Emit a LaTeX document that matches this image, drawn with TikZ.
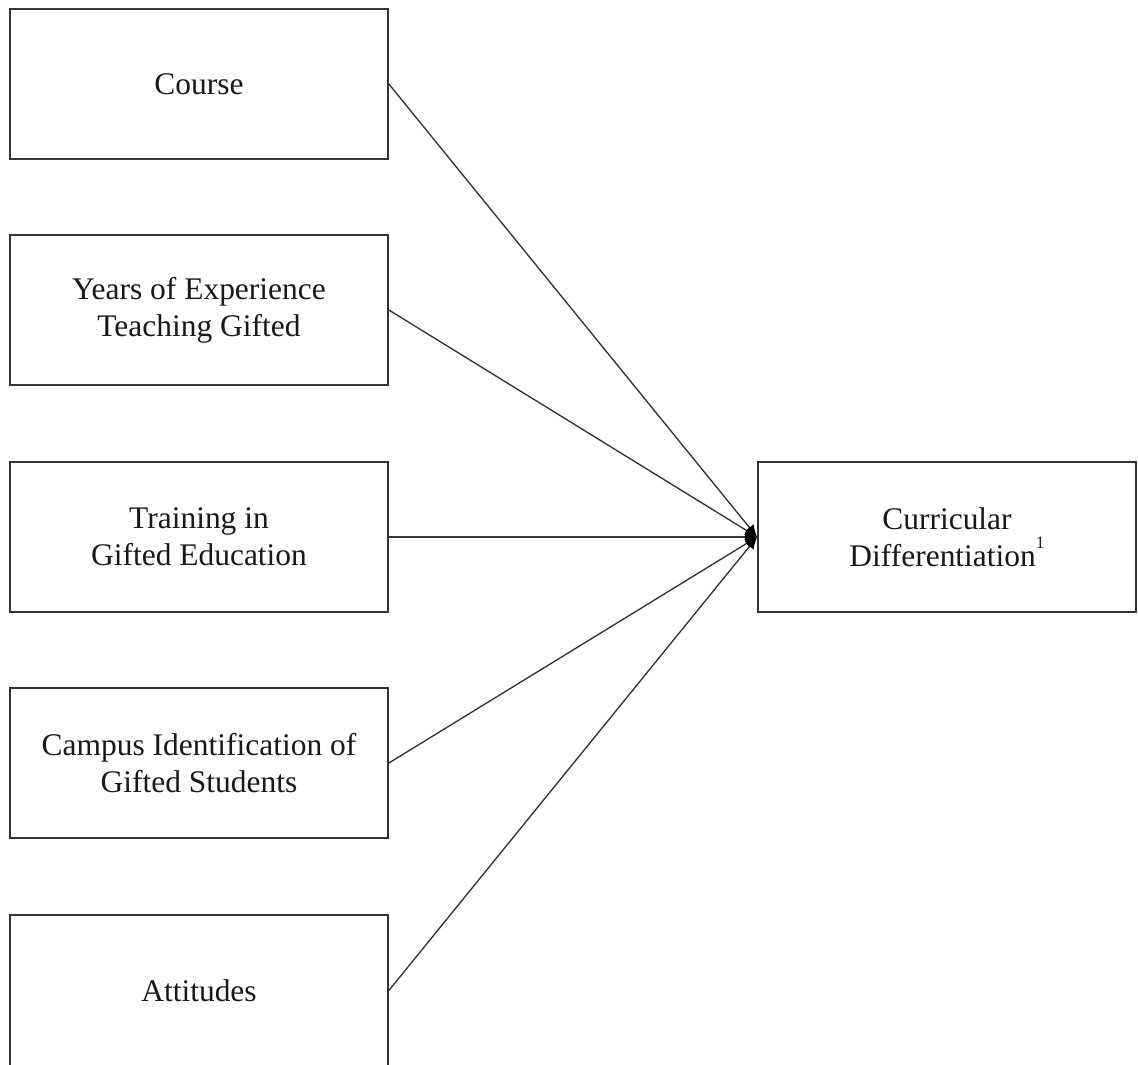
\documentclass[tikz,border=0pt]{standalone}
\usepackage{fontspec}
\setmainfont{Liberation Serif}
\usetikzlibrary{arrows.meta}
\newcommand{\notemark}[1]{\raisebox{0.55em}{\fontsize{13}{13}\selectfont #1}}
\begin{document}
\begin{tikzpicture}[x=0.75pt,y=-0.75pt,
  box/.style={draw=black!80, line width=1.3pt, fill=white, align=center,
    minimum width=283.5pt, minimum height=113pt, inner sep=0pt,
    font=\fontsize{23.6}{27.8}\selectfont, text=black!90},
  path/.style={draw=black!80, line width=1pt,
    -{Latex[length=9pt,width=8pt,fill=black,color=black]}}]
  \useasboundingbox (0,0) rectangle (1138,1064);
  \fill[white] (0,0) rectangle (1138,1064);

  % predictors
  \node[box] (course)   at (199,84)    {Course};
  \node[box] (years)    at (199,310)   {Years of Experience\\Teaching Gifted};
  \node[box] (training) at (199,537)   {Training in\\Gifted Education};
  \node[box] (campus)   at (199,763)   {Campus Identification of\\Gifted Students};
  \node[box] (attitude) at (199,990.5) {Attitudes};

  % outcome
  \node[box] (cd) at (947,537) {Curricular\\Differentiation\notemark{1}};

  % paths into the outcome
  \foreach \src in {course,years,training,campus,attitude}
    \draw[path] (\src.east) -- (cd.west);
\end{tikzpicture}
\end{document}
